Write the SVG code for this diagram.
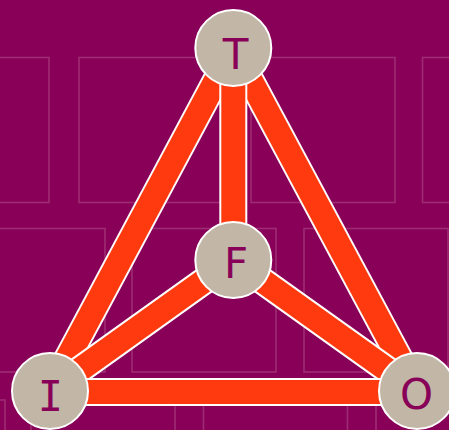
<svg xmlns="http://www.w3.org/2000/svg" width="449" height="430" viewBox="0 0 449 430">
  <style>
    .bg { fill: #880058; }
    .tile { fill: none; stroke: #9e2c74; stroke-width: 1.6; }
    .edge-w { stroke: #ffffff; stroke-width: 28; stroke-linecap: butt; fill: none; }
    .edge-o { stroke: #ff3a0e; stroke-width: 24; stroke-linecap: butt; fill: none; }
    .node circle { fill: #c2b6a6; stroke: #ffffff; stroke-width: 2; }
    .node text { fill: #880058; font-family: "DejaVu Sans", Verdana, sans-serif; font-size: 42px; text-anchor: middle; }
    .node text.serif-i { font-family: "DejaVu Sans Mono", monospace; }
  </style>
  <rect class="bg" x="0" y="0" width="449" height="430"/>
  <g id="background-tiles">
    <rect class="tile" x="-95" y="57.5" width="144" height="145"/>
    <rect class="tile" x="79" y="57.5" width="144" height="145"/>
    <rect class="tile" x="251" y="57.5" width="144" height="145"/>
    <rect class="tile" x="422.5" y="57.5" width="144" height="145"/>
    <rect class="tile" x="-39" y="228.5" width="144" height="143.5"/>
    <rect class="tile" x="132" y="228.5" width="144" height="143.5"/>
    <rect class="tile" x="304" y="228.5" width="144" height="143.5"/>
    <rect class="tile" x="-139" y="400" width="144" height="145"/>
    <rect class="tile" x="31" y="400" width="144" height="145"/>
    <rect class="tile" x="203.5" y="400" width="144" height="145"/>
    <rect class="tile" x="376" y="400" width="144" height="145"/>
  </g>
  <g id="connectors">
    <line class="edge-w" x1="233.3" y1="48" x2="50" y2="391"/>
    <line class="edge-o" x1="233.3" y1="48" x2="50" y2="391"/>
    <line class="edge-w" x1="233.3" y1="48" x2="417" y2="391"/>
    <line class="edge-o" x1="233.3" y1="48" x2="417" y2="391"/>
    <line class="edge-w" x1="233.3" y1="48" x2="233.3" y2="260"/>
    <line class="edge-o" x1="233.3" y1="48" x2="233.3" y2="260"/>
    <line class="edge-w" x1="50" y1="391" x2="233.3" y2="260"/>
    <line class="edge-o" x1="50" y1="391" x2="233.3" y2="260"/>
    <line class="edge-w" x1="233.3" y1="260" x2="417" y2="391"/>
    <line class="edge-o" x1="233.3" y1="260" x2="417" y2="391"/>
    <line class="edge-w" x1="50" y1="392" x2="417" y2="392"/>
    <line class="edge-o" x1="50" y1="392" x2="417" y2="392"/>
  </g>
  <g id="node-T" class="node">
    <circle cx="233.3" cy="48" r="38"/>
    <text x="235.5" y="69">T</text>
  </g>
  <g id="node-F" class="node">
    <circle cx="233.3" cy="260" r="38"/>
    <text x="236" y="277.5">F</text>
  </g>
  <g id="node-I" class="node">
    <circle cx="50" cy="391" r="38"/>
    <text class="serif-i" x="50.5" y="410.5">I</text>
  </g>
  <g id="node-O" class="node">
    <circle cx="417" cy="391" r="38"/>
    <text x="416.5" y="408.5">O</text>
  </g>
</svg>
